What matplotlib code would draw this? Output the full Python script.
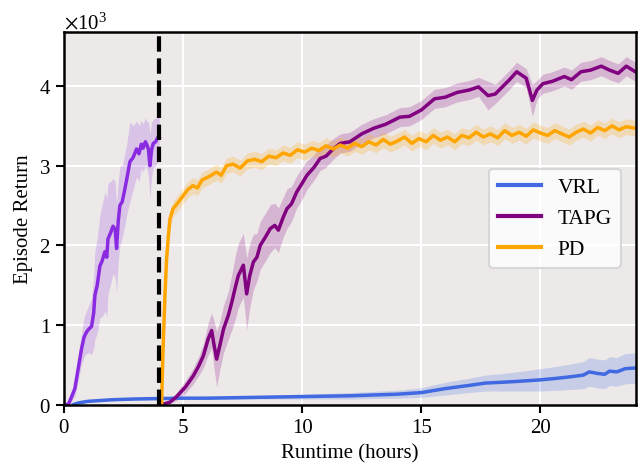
import numpy as np
import matplotlib
matplotlib.use("Agg")
import matplotlib.pyplot as plt

plt.rcParams['font.family'] = ['Liberation Serif', 'DejaVu Serif']
plt.rcParams['mathtext.fontset'] = 'stix'

# early phase (0-4 h), purple-violet curve
early_x = [0.0, 0.18, 0.3, 0.46, 0.6, 0.74, 0.85, 0.95, 1.05, 1.16, 1.25, 1.3, 1.4, 1.51,
           1.6, 1.72, 1.8, 1.85, 1.95, 2.06, 2.15, 2.21, 2.28, 2.35, 2.45, 2.56, 2.65, 2.77,
           2.9, 3.05, 3.15, 3.25, 3.32, 3.42, 3.5, 3.55, 3.61, 3.68, 3.75, 3.85, 3.95, 4.0]
early_y = [0, 0, 0.08, 0.2, 0.45, 0.70, 0.85, 0.91, 0.95, 0.98, 1.15, 1.37, 1.5, 1.74,
           1.80, 1.92, 1.85, 2.08, 2.15, 2.24, 2.20, 1.96, 2.3, 2.5, 2.55, 2.71, 2.85, 3.05,
           3.1, 3.21, 3.15, 3.27, 3.22, 3.30, 3.25, 3.2, 3.0, 3.2, 3.28, 3.3, 3.36, 3.35]
early_s = [0, 0, 0.05, 0.1, 0.15, 0.2, 0.25, 0.27, 0.3, 0.35, 0.45, 0.55, 0.6, 0.65,
           0.7, 0.75, 0.75, 0.7, 0.65, 0.6, 0.6, 0.55, 0.5, 0.5, 0.45, 0.45, 0.45, 0.5,
           0.4, 0.35, 0.35, 0.3, 0.3, 0.3, 0.3, 0.35, 0.4, 0.35, 0.3, 0.3, 0.3, 0.3]

vrl_x = [0.4, 0.6, 1.0, 1.5, 2.0, 3.0, 4.0, 5, 6, 7, 8, 9, 10, 11, 12, 13, 14, 15, 16,
         17, 17.7, 18.4, 19, 20, 20.7, 21.3, 21.8, 22.05, 22.4, 22.7, 22.9, 23.2, 23.55, 24]
vrl_y = [0, 0.02, 0.04, 0.05, 0.06, 0.07, 0.075, 0.08, 0.08, 0.085, 0.09, 0.095, 0.10,
         0.105, 0.11, 0.12, 0.13, 0.15, 0.20, 0.24, 0.27, 0.28, 0.29, 0.31, 0.33, 0.35,
         0.37, 0.41, 0.39, 0.38, 0.42, 0.41, 0.45, 0.46]
vrl_s = [0, 0.005, 0.01, 0.01, 0.012, 0.012, 0.015, 0.015, 0.015, 0.02, 0.02, 0.025, 0.03,
         0.035, 0.04, 0.045, 0.05, 0.06, 0.08, 0.09, 0.1, 0.11, 0.12, 0.14, 0.15, 0.16,
         0.17, 0.18, 0.18, 0.18, 0.18, 0.18, 0.19, 0.19]

tapg_x = [4.1, 4.45, 4.73, 5.1, 5.43, 5.65, 5.85, 6.05, 6.2, 6.3, 6.41, 6.55, 6.7, 6.9,
          7.05, 7.2, 7.32, 7.53, 7.67, 7.8, 7.95, 8.1, 8.24, 8.45, 8.66, 8.85, 9.0, 9.2,
          9.36, 9.55, 9.77, 10.0, 10.2, 10.5, 10.75, 11.0, 11.3, 11.6, 12.0, 12.5, 13.0,
          13.5, 14.1, 14.5, 15.0, 15.55, 16.0, 16.5, 17.0, 17.4, 17.8, 18.1, 18.4, 18.7,
          19.0, 19.2, 19.4, 19.66, 19.85, 20.1, 20.5, 21.0, 21.3, 21.7, 22.1, 22.55, 22.9,
          23.26, 23.6, 23.98]
tapg_y = [0, 0.03, 0.1, 0.22, 0.36, 0.48, 0.61, 0.82, 0.93, 0.75, 0.57, 0.75, 0.95, 1.12,
          1.29, 1.48, 1.62, 1.75, 1.39, 1.62, 1.79, 1.85, 2.0, 2.1, 2.21, 2.25, 2.19, 2.35,
          2.46, 2.52, 2.67, 2.78, 2.88, 2.98, 3.09, 3.12, 3.21, 3.28, 3.30, 3.40, 3.47,
          3.52, 3.61, 3.62, 3.70, 3.84, 3.86, 3.92, 3.95, 3.99, 3.88, 3.90, 3.99, 4.08,
          4.18, 4.14, 4.10, 3.82, 3.95, 4.03, 4.06, 4.12, 4.08, 4.18, 4.20, 4.25, 4.20,
          4.16, 4.25, 4.18]
tapg_s = [0, 0.02, 0.05, 0.08, 0.1, 0.12, 0.15, 0.2, 0.22, 0.3, 0.35, 0.3, 0.3, 0.3,
          0.35, 0.4, 0.4, 0.4, 0.45, 0.4, 0.35, 0.3, 0.3, 0.3, 0.3, 0.28, 0.28, 0.25,
          0.25, 0.22, 0.2, 0.2, 0.18, 0.16, 0.15, 0.14, 0.13, 0.12, 0.12, 0.12, 0.12,
          0.12, 0.12, 0.12, 0.12, 0.12, 0.12, 0.12, 0.12, 0.12, 0.18, 0.12, 0.12, 0.12,
          0.12, 0.12, 0.12, 0.2, 0.12, 0.12, 0.12, 0.12, 0.12, 0.12, 0.12, 0.12, 0.12,
          0.12, 0.12, 0.12]

pd_x = [4.05, 4.1, 4.15, 4.24, 4.31, 4.38, 4.45, 4.58, 4.75, 5.0, 5.2, 5.42, 5.6, 5.8,
        6.13, 6.4, 6.6, 6.83, 7.1, 7.4, 7.7, 8.0, 8.3, 8.6, 8.9, 9.2, 9.5, 9.8, 10.1,
        10.4, 10.7, 11.0, 11.3, 11.6, 11.9, 12.2, 12.5, 12.8, 13.1, 13.4, 13.7, 14.0,
        14.3, 14.6, 14.9, 15.2, 15.5, 15.8, 16.1, 16.4, 16.7, 17.0, 17.3, 17.6, 17.9,
        18.2, 18.5, 18.8, 19.1, 19.4, 19.7, 20.0, 20.3, 20.6, 20.9, 21.2, 21.5, 21.8,
        22.1, 22.4, 22.7, 23.0, 23.3, 23.6, 24.0]
pd_y = [0, 0.0, 0.6, 1.37, 1.83, 2.1, 2.33, 2.46, 2.52, 2.62, 2.70, 2.75, 2.72, 2.82,
        2.87, 2.92, 2.88, 3.0, 3.02, 2.97, 3.06, 3.08, 3.05, 3.12, 3.10, 3.16, 3.13, 3.2,
        3.17, 3.22, 3.19, 3.25, 3.21, 3.26, 3.22, 3.28, 3.24, 3.30, 3.26, 3.33, 3.27,
        3.31, 3.36, 3.28, 3.34, 3.30, 3.38, 3.32, 3.36, 3.30, 3.38, 3.35, 3.42, 3.36,
        3.40, 3.35, 3.44, 3.38, 3.42, 3.37, 3.45, 3.41, 3.38, 3.44, 3.40, 3.36, 3.42,
        3.46, 3.41, 3.48, 3.44, 3.50, 3.45, 3.49, 3.47]
pd_s = [0, 0, 0.05, 0.08, 0.1, 0.1, 0.1, 0.1, 0.1, 0.1, 0.1, 0.1, 0.1, 0.1,
        0.1, 0.1, 0.1, 0.1, 0.1, 0.1, 0.1, 0.1, 0.1, 0.1, 0.1, 0.1, 0.1, 0.1,
        0.1, 0.1, 0.1, 0.1, 0.1, 0.1, 0.1, 0.1, 0.1, 0.1, 0.1, 0.1, 0.1,
        0.1, 0.1, 0.1, 0.1, 0.1, 0.1, 0.1, 0.1, 0.1, 0.1, 0.1, 0.1, 0.1,
        0.1, 0.1, 0.1, 0.1, 0.1, 0.1, 0.1, 0.1, 0.1, 0.1, 0.1, 0.1, 0.1,
        0.1, 0.1, 0.1, 0.1, 0.1, 0.1, 0.1, 0.1]

series = [
    ("VRL", vrl_x, vrl_y, vrl_s, '#4169E1'),
    ("TAPG", tapg_x, tapg_y, tapg_s, '#800080'),
    ("PD", pd_x, pd_y, pd_s, '#FFA500'),
]

fig = plt.figure(figsize=(6.39, 4.64), dpi=100)
ax = fig.add_axes([0.100, 0.126, 0.895, 0.803])
ax.set_facecolor('#ede9e9')
ax.grid(True, color='white', linewidth=1.5)
ax.set_axisbelow(True)

# early phase
ex = np.array(early_x)
ey = np.array(early_y) * 1000
es = np.array(early_s) * 1000
ax.fill_between(ex, ey - es, ey + es, color='#8A2BE2', alpha=0.2, linewidth=0)
ax.plot(ex, ey, color='#8A2BE2', linewidth=2.5)

for name, xs, ys, ss, c in series:
    x = np.array(xs)
    y = np.array(ys) * 1000
    s = np.array(ss) * 1000
    ax.fill_between(x, y - s, y + s, color=c, alpha=0.22, linewidth=0)
    ax.plot(x, y, color=c, linewidth=2.5, label=name)

ax.axvline(4.0, color='black', linestyle='--', linewidth=3)

ax.set_xlim(0, 24)
ax.set_ylim(0, 4680)
ax.set_xticks([0, 5, 10, 15, 20])
ax.set_yticks([0, 1000, 2000, 3000, 4000])
ax.ticklabel_format(axis='y', style='sci', scilimits=(3, 3), useMathText=True)
ax.yaxis.get_offset_text().set_fontsize(15)
ax.tick_params(labelsize=15, width=1.5, length=6, color='black')
for sp in ax.spines.values():
    sp.set_linewidth(1.8)
    sp.set_color('black')

ax.set_xlabel('Runtime (hours)', fontsize=15, labelpad=5)
ax.set_ylabel('Episode Return', fontsize=15, labelpad=4)

leg = ax.legend(loc='center right', fontsize=15.5, frameon=True, handlelength=2.0,
                borderaxespad=0.7)
leg.get_frame().set_edgecolor('#d0d0d0')
leg.get_frame().set_linewidth(1.5)
for line in leg.get_lines():
    line.set_linewidth(3)

fig.savefig('out.png', dpi=100)
